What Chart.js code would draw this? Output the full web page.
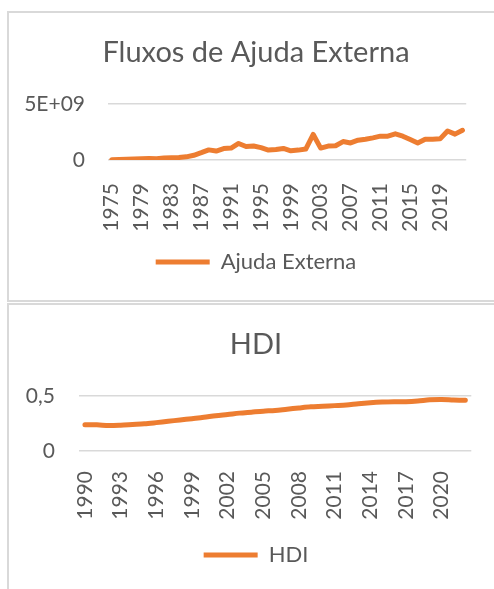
<!DOCTYPE html>
<html lang="pt">
<head>
<meta charset="UTF-8">
<title>Fluxos de Ajuda Externa / HDI</title>
<script src="https://cdn.jsdelivr.net/npm/chart.js@4.4.0/dist/chart.umd.min.js"></script>
<style>
  html, body { margin: 0; padding: 0; background: #fff; overflow: hidden; }
  body { width: 494px; height: 589px; position: relative; }
  .box { position: absolute; left: 7px; width: 520px; border: 2px solid #d9d9d9; background: #fff; }
  #box1 { top: 11px; height: 287px; }
  #box2 { top: 303px; height: 320px; }
  canvas { position: absolute; left: 0; top: 0; }
</style>
</head>
<body>
<div class="box" id="box1"><canvas id="aidChart" width="494" height="287"></canvas></div>
<div class="box" id="box2"><canvas id="hdiChart" width="494" height="287"></canvas></div>
<script>
// Ajuda externa (US$), 1975-2022
const aidYears = ['1975','1976','1977','1978','1979','1980','1981','1982','1983','1984',
  '1985','1986','1987','1988','1989','1990','1991','1992','1993','1994',
  '1995','1996','1997','1998','1999','2000','2001','2002','2003','2004',
  '2005','2006','2007','2008','2009','2010','2011','2012','2013','2014',
  '2015','2016','2017','2018','2019','2020','2021','2022'];
const aidValues = [0.03e9,0.05e9,0.07e9,0.1e9,0.12e9,0.13e9,0.12e9,0.17e9,0.2e9,0.22e9,
  0.28e9,0.42e9,0.65e9,0.9e9,0.8e9,1.02e9,1.06e9,1.47e9,1.2e9,1.24e9,
  1.1e9,0.88e9,0.94e9,1.03e9,0.82e9,0.88e9,0.97e9,2.27e9,1.06e9,1.24e9,
  1.27e9,1.64e9,1.52e9,1.76e9,1.85e9,1.97e9,2.12e9,2.12e9,2.33e9,2.12e9,
  1.82e9,1.52e9,1.85e9,1.85e9,1.88e9,2.58e9,2.3e9,2.64e9];
const aidTicks = [0, 5e9];

// HDI, 1990-2022
const hdiYears = ['1990','1991','1992','1993','1994','1995','1996','1997','1998','1999',
  '2000','2001','2002','2003','2004','2005','2006','2007','2008','2009',
  '2010','2011','2012','2013','2014','2015','2016','2017','2018','2019',
  '2020','2021','2022'];
const hdiValues = [0.237,0.237,0.231,0.234,0.24,0.246,0.257,0.269,0.281,0.293,
  0.305,0.32,0.331,0.343,0.352,0.361,0.367,0.379,0.39,0.4,
  0.405,0.411,0.417,0.429,0.438,0.444,0.447,0.447,0.453,0.464,
  0.467,0.462,0.459];
const hdiTicks = [0, 0.5];

const orange = '#ED7D31';
const grey = '#595959';
const gridGrey = '#d9d9d9';
const fontFam = 'Lato, "Open Sans", sans-serif';

function makeChart(id, cfg) {
  const ctx = document.getElementById(id).getContext('2d');
  return new Chart(ctx, {
    type: 'line',
    data: {
      labels: cfg.labels,
      datasets: [{
        label: cfg.name,
        data: cfg.values,
        borderColor: orange,
        backgroundColor: orange,
        borderWidth: 5,
        borderCapStyle: 'round',
        borderJoinStyle: 'round',
        pointRadius: 0,
        tension: cfg.tension
      }]
    },
    options: {
      responsive: false,
      animation: false,
      layout: { padding: { left: 0, right: 0, top: 0, bottom: cfg.padBottom } },
      plugins: {
        title: {
          display: true,
          text: cfg.title,
          color: grey,
          font: { family: fontFam, size: 29, weight: 'normal' },
          padding: { top: 22, bottom: 34 }
        },
        legend: {
          position: 'bottom',
          labels: {
            color: grey,
            font: { family: fontFam, size: 22 },
            usePointStyle: true,
            pointStyle: 'line',
            pointStyleWidth: 54,
            boxHeight: 22,
            padding: 0
          }
        },
        tooltip: { enabled: false }
      },
      scales: {
        x: {
          offset: true,
          grid: { display: false },
          border: { display: false },
          afterFit: function(s) { s.height = cfg.xHeight; },
          ticks: {
            autoSkip: false,
            minRotation: 90,
            maxRotation: 90,
            padding: cfg.xPad,
            color: grey,
            font: { family: fontFam, size: 21 },
            callback: function(v, i) { return i % cfg.every === 0 ? this.getLabelForValue(v) : ''; }
          }
        },
        y: {
          min: cfg.ticks[0],
          max: cfg.ticks[1],
          afterFit: function(s) { s.width = cfg.yWidth; },
          afterBuildTicks: function(s) { s.ticks = cfg.ticks.map(v => ({ value: v })); },
          grid: { color: gridGrey, lineWidth: 1.5, drawTicks: false },
          border: { display: false },
          ticks: {
            padding: cfg.yPad,
            color: grey,
            font: { family: fontFam, size: 21 },
            callback: cfg.fmt
          }
        },
        // empty right-hand strip so the plot stops short of the box edge
        yRight: {
          position: 'right',
          display: true,
          afterFit: function(s) { s.width = 30; },
          grid: { display: false },
          border: { display: false },
          ticks: { display: false }
        }
      }
    }
  });
}

makeChart('aidChart', {
  labels: aidYears, values: aidValues, name: 'Ajuda Externa', title: 'Fluxos de Ajuda Externa',
  ticks: aidTicks, every: 4, yWidth: 99, yPad: 23, xHeight: 91, xPad: 15, padBottom: 17, tension: 0,
  fmt: v => v === 0 ? '0' : '5E+09'
});

makeChart('hdiChart', {
  labels: hdiYears, values: hdiValues, name: 'HDI', title: 'HDI',
  ticks: hdiTicks, every: 3, yWidth: 70, yPad: 24, xHeight: 93, xPad: 12, padBottom: 16, tension: 0.3,
  fmt: v => String(v).replace('.', ',')
});
</script>
</body>
</html>
